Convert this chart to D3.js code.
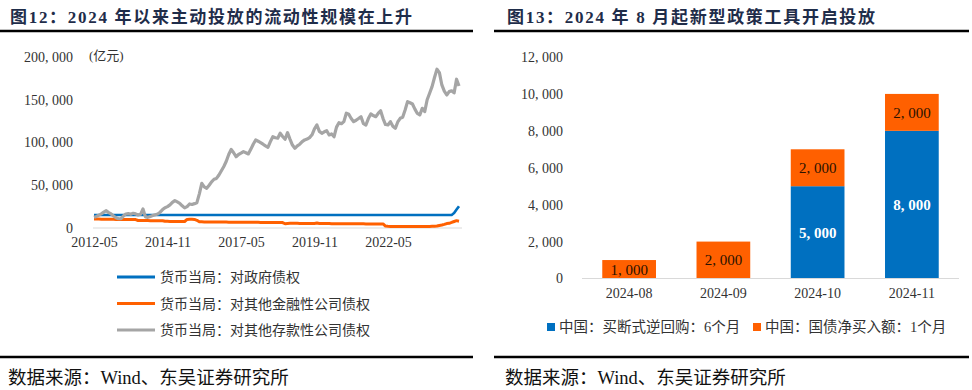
<!DOCTYPE html>
<html><head><meta charset="utf-8">
<script src="https://cdn.jsdelivr.net/npm/d3@7"></script>
<style>body{margin:0;background:#fff}svg{display:block}</style>
</head><body><svg id="c" width="972" height="390"></svg>
<script>
// ---------- Left chart data (亿元, monthly 2012-05 .. 2024-10) ----------
const startMonth = "2012-05";
const xTickLabels = ["2012-05","2014-11","2017-05","2019-11","2022-05"];
const yTicksLeft = [0,50000,100000,150000,200000];
const seriesNames = ["货币当局：对政府债权","货币当局：对其他金融性公司债权","货币当局：对其他存款性公司债权"];
const govClaims = [
15274,15274,15274,15274,15274,15274,15274,15274,15274,15274,15274,15274,15274,15274,15274,
15274,15274,15274,15274,15274,15274,15274,15274,15274,15274,15274,15274,15274,15274,15274,
15274,15274,15274,15274,15274,15274,15274,15274,15274,15274,15274,15274,15274,15274,15274,
15274,15274,15274,15274,15274,15274,15274,15274,15274,15274,15274,15274,15274,15274,15274,
15274,15274,15274,15274,15274,15274,15274,15274,15274,15274,15274,15274,15274,15274,15274,
15274,15274,15274,15274,15274,15274,15274,15274,15274,15274,15274,15274,15274,15274,15274,
15274,15274,15274,15274,15274,15274,15274,15274,15274,15274,15274,15274,15274,15274,15274,
15274,15274,15274,15274,15274,15274,15274,15274,15274,15274,15274,15274,15274,15274,15274,
15274,15274,15274,15274,15274,15274,15274,15274,15274,15274,15274,15274,15274,15274,15274,
15274,15274,15274,15274,15274,15274,15274,15274,15274,15274,15274,15274,17500,21500,25500];
const otherFinClaims = [
10500,10400,10400,10300,10300,10200,10200,10100,10100,10000,10000,10000,9900,9900,9900,9800,9800,9800,8800,8800,
8700,8700,8700,8600,8600,8600,8500,8500,8500,7800,7800,7700,7700,7700,7600,7600,7600,7600,10000,10100,
10100,10000,9000,7200,7200,7100,7100,7100,7000,7000,7000,6900,6900,6900,6900,6800,6800,6800,6800,6700,
6700,6700,6700,6600,6600,6600,6600,6600,6500,6500,6500,6500,6500,6500,6500,6400,6400,6400,5000,5300,
5500,5500,5500,5500,5400,5400,5400,5400,5300,5300,5300,5800,5300,5200,5200,5200,5200,5100,5100,5100,
5100,5000,5000,5000,5000,5000,4900,4900,4900,4900,4900,4800,4800,4800,4800,4800,4800,4800,4700,2200,
2000,1900,1900,1900,1800,1800,1800,1800,1800,1800,1800,1800,1800,1800,1900,1900,1900,1900,2000,2100,
2300,3000,3500,4200,5200,5500,6500,7600,8600,8000];
const otherDepClaims = [
12500,13500,15000,16500,18500,20200,18000,16400,14000,12000,10800,11000,14000,16400,16800,16000,17200,16500,15200,16000,
22200,13000,12500,13500,14500,15500,16400,18500,21500,23800,25000,27000,30000,32000,30500,28900,26000,23500,25000,28100,
27500,28500,29600,40000,52300,48000,46400,50000,54000,57000,58000,62000,67000,72000,78000,86000,92000,88000,83400,86000,
87500,89300,88000,86600,92000,98000,103000,101500,99800,98000,96000,94400,101000,106800,105500,105000,110800,107000,103800,111500,
104000,97000,93200,96000,98000,101000,103000,104000,105700,109000,116000,120500,113000,110800,112500,113800,108800,110000,106800,118000,
123200,122000,124400,134200,133000,128000,124400,126000,128000,130200,122000,120500,128000,133400,131500,130200,134000,137200,128000,121000,
120500,124400,119000,116600,124000,128300,129500,138000,147800,146500,145000,139000,134000,132200,140000,136100,150000,157600,165300,176000,
185700,181700,167300,160000,155600,159500,160500,158000,174000,166100];

// ---------- Right chart data (亿元) ----------
const barCategories = ["2024-08","2024-09","2024-10","2024-11"];
const barSeriesNames = ["中国：买断式逆回购：6个月","中国：国债净买入额：1个月"];
const outrightRepo = [0,0,5000,8000];
const bondNetBuy = [1000,2000,2000,2000];
const yTicksRight = [0,2000,4000,6000,8000,10000,12000];

// ---------- styles ----------
const C_BLUE = "#0070C0", C_ORANGE = "#FF6000", C_GRAY = "#A5A5A5";
const TITLE_C = "#1f2d4a", TXT = "#333333";
const NUMF = "'Liberation Serif','Times New Roman',serif";
const CJKF = "'Liberation Serif','Noto Sans CJK SC',serif";
const fmt = v => d3.format(",")(v).replace(/,/g, ", ");

const svg = d3.select("#c");
svg.append("rect").attr("width",972).attr("height",390).attr("fill","#fff");

// Titles and rules
function header(x0, x1, tx, text){
  svg.append("text").attr("x",tx).attr("y",23).attr("font-family",CJKF)
    .attr("font-weight","bold").attr("font-size",17).attr("letter-spacing",1.7)
    .attr("fill",TITLE_C).text(text);
  svg.append("line").attr("x1",x0).attr("x2",x1).attr("y1",31).attr("y2",31)
    .attr("stroke","#000").attr("stroke-width",2.6);
  svg.append("line").attr("x1",x0).attr("x2",x1).attr("y1",357).attr("y2",357)
    .attr("stroke","#000").attr("stroke-width",2.6);
  svg.append("text").attr("x",tx-2).attr("y",384).attr("font-family",CJKF)
    .attr("font-size",18.5).attr("fill","#111").text("数据来源：Wind、东吴证券研究所");
}
header(0, 473, 10, "图12：2024 年以来主动投放的流动性规模在上升");
header(494, 969, 507, "图13：2024 年 8 月起新型政策工具开启投放");

// ---------- Left line chart ----------
const months = d3.range(otherDepClaims.length).map(i => d3.timeFormat("%Y-%m")(d3.timeMonth.offset(d3.timeParse("%Y-%m")(startMonth), i)));
const xL = d3.scalePoint().domain(months).range([94, 459]);
const yL = d3.scaleLinear().domain([0, 200000]).range([228, 57]);

const gL = svg.append("g");
gL.append("line").attr("x1", xL(months[0]) - 1).attr("x2", xL(months[months.length-1]) + 3)
  .attr("y1", yL(0)).attr("y2", yL(0)).attr("stroke","#d9d9d9").attr("stroke-width",1.2);

const axL = gL.append("g").attr("transform","translate(76,0)")
  .call(d3.axisLeft(yL).tickValues(yTicksLeft).tickSize(0).tickPadding(3).tickFormat(fmt));
axL.select(".domain").remove();
axL.selectAll("text").attr("font-family",NUMF).attr("font-size",14).attr("fill",TXT);

const axLB = gL.append("g").attr("transform",`translate(0,${yL(0)})`)
  .call(d3.axisBottom(xL).tickValues(xTickLabels).tickSize(0).tickPadding(9));
axLB.select(".domain").remove();
axLB.selectAll("text").attr("font-family",NUMF).attr("font-size",14).attr("fill",TXT);

gL.append("text").attr("x",89).attr("y",60).attr("font-family",CJKF).attr("font-size",13)
  .attr("fill",TXT).text("(亿元)");

const lineGen = d3.line().x((d,i) => xL(months[i])).y(d => yL(d));
const seriesL = [
  {name: seriesNames[0], vals: govClaims, color: C_BLUE, w: 2.6},
  {name: seriesNames[1], vals: otherFinClaims, color: C_ORANGE, w: 3},
  {name: seriesNames[2], vals: otherDepClaims, color: C_GRAY, w: 3.2}
];
[seriesL[1], seriesL[0], seriesL[2]].forEach(s => {
  gL.append("path").datum(s.vals).attr("d", lineGen).attr("fill","none")
    .attr("stroke", s.color).attr("stroke-width", s.w).attr("stroke-linejoin","round");
});

// legend
const legL = gL.append("g").selectAll("g").data(seriesL).join("g")
  .attr("transform",(d,i)=>`translate(117,${277 + i*26.5})`);
legL.append("line").attr("x1",0).attr("x2",38).attr("stroke",d=>d.color).attr("stroke-width",3);
legL.append("text").attr("x",43).attr("dy","0.36em").attr("font-family",CJKF).attr("font-size",14)
  .attr("fill",TXT).text(d=>d.name);

// ---------- Right bar chart ----------
const xR = d3.scaleBand().domain(barCategories).range([582, 959]).paddingInner(0.43).paddingOuter(0.215);
const yR = d3.scaleLinear().domain([0, 12000]).range([278.5, 57]);
const gR = svg.append("g");

const axR = gR.append("g").attr("transform","translate(566,0)")
  .call(d3.axisLeft(yR).tickValues(yTicksRight).tickSize(0).tickPadding(3).tickFormat(fmt));
axR.select(".domain").remove();
axR.selectAll("text").attr("font-family",NUMF).attr("font-size",14).attr("fill",TXT);

const stackData = barCategories.map((c,i)=>({cat:c, repo: outrightRepo[i], bond: bondNetBuy[i]}));
const stacked = d3.stack().keys(["repo","bond"])(stackData);
const colorsR = [C_BLUE, C_ORANGE];
stacked.forEach((layer, li) => {
  const g = gR.append("g");
  g.selectAll("rect").data(layer.filter(d => d[1] - d[0] > 0)).join("rect")
    .attr("x", d => xR(d.data.cat)).attr("width", xR.bandwidth())
    .attr("y", d => yR(d[1])).attr("height", d => yR(d[0]) - yR(d[1]))
    .attr("fill", colorsR[li]);
  g.selectAll("text").data(layer.filter(d => d[1] - d[0] > 0)).join("text")
    .attr("x", d => xR(d.data.cat) + xR.bandwidth()/2)
    .attr("y", d => (yR(d[0]) + yR(d[1]))/2).attr("dy","0.36em")
    .attr("text-anchor","middle").attr("font-family",NUMF).attr("font-size",15)
    .attr("font-weight", li === 0 ? "bold" : "normal")
    .attr("fill", li === 0 ? "#fff" : "#2a1200")
    .text(d => fmt(d[1]-d[0]));
});

gR.append("line").attr("x1", xR.range()[0]).attr("x2", xR.range()[1])
  .attr("y1", yR(0)).attr("y2", yR(0)).attr("stroke","#d9d9d9").attr("stroke-width",1.2);

const axRB = gR.append("g").attr("transform",`translate(0,${yR(0)})`)
  .call(d3.axisBottom(xR).tickSize(0).tickPadding(10));
axRB.select(".domain").remove();
axRB.selectAll("text").attr("font-family",NUMF).attr("font-size",14).attr("fill",TXT);

// right legend
const legR = gR.append("g").selectAll("g").data(barSeriesNames).join("g")
  .attr("transform",(d,i)=>`translate(${[547, 753][i]},327)`);
legR.append("rect").attr("x",0).attr("y",-4).attr("width",8).attr("height",8).attr("fill",(d,i)=>colorsR[i]);
legR.append("text").attr("x",12).attr("dy","0.36em").attr("font-family",CJKF).attr("font-size",14.5)
  .attr("fill",TXT).text(d=>d);
</script></body></html>
